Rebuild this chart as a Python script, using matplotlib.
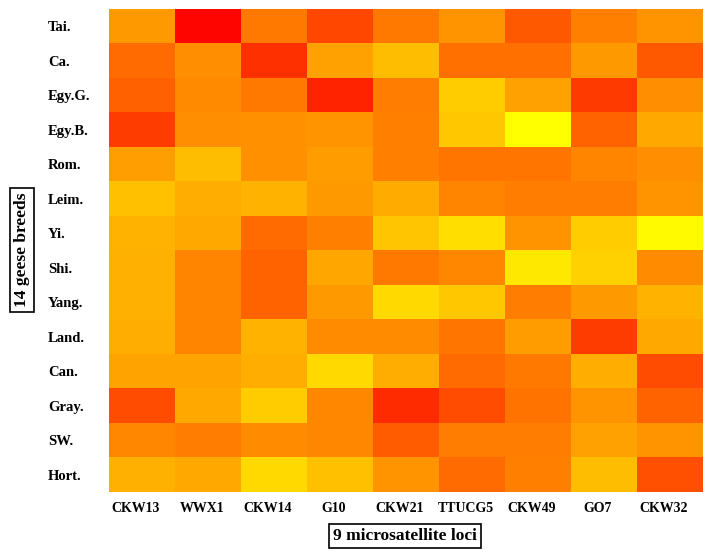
import numpy as np
import matplotlib
matplotlib.use("Agg")
import matplotlib.pyplot as plt
import matplotlib.transforms as mtransforms

breeds = ["Tai.", "Ca.", "Egy.G.", "Egy.B.", "Rom.", "Leim.", "Yi.", "Shi.",
          "Yang.", "Land.", "Can.", "Gray.", "SW.", "Hort."]
loci = ["CKW13", "WWX1", "CKW14", "G10", "CKW21", "TTUCG5", "CKW49", "GO7", "CKW32"]

# values (0 = red, 1 = yellow)
tai = [0.60, 0.02, 0.48, 0.28, 0.47, 0.58, 0.35, 0.50, 0.58]
ca = [0.42, 0.56, 0.19, 0.63, 0.74, 0.44, 0.44, 0.60, 0.35]
egy_g = [0.38, 0.54, 0.48, 0.14, 0.49, 0.80, 0.63, 0.23, 0.56]
egy_b = [0.24, 0.56, 0.57, 0.58, 0.50, 0.78, 1.00, 0.39, 0.66]
rom = [0.62, 0.74, 0.57, 0.61, 0.50, 0.46, 0.46, 0.52, 0.56]
leim = [0.75, 0.68, 0.70, 0.60, 0.67, 0.52, 0.49, 0.49, 0.58]
yi = [0.70, 0.66, 0.42, 0.50, 0.77, 0.87, 0.58, 0.80, 0.98]
shi = [0.69, 0.52, 0.39, 0.65, 0.47, 0.53, 0.91, 0.82, 0.55]
yang = [0.69, 0.52, 0.39, 0.60, 0.85, 0.78, 0.49, 0.60, 0.70]
land = [0.68, 0.52, 0.70, 0.55, 0.55, 0.46, 0.61, 0.24, 0.66]
can = [0.64, 0.64, 0.68, 0.85, 0.68, 0.42, 0.47, 0.68, 0.30]
gray = [0.30, 0.66, 0.80, 0.53, 0.17, 0.30, 0.45, 0.58, 0.39]
sw = [0.53, 0.49, 0.55, 0.53, 0.36, 0.49, 0.49, 0.63, 0.58]
hort = [0.69, 0.66, 0.85, 0.75, 0.58, 0.42, 0.50, 0.74, 0.31]

grid = np.array([tai, ca, egy_g, egy_b, rom, leim, yi, shi, yang, land, can, gray, sw, hort])

plt.rcParams['font.family'] = ['Liberation Serif', 'DejaVu Serif']
plt.rcParams['font.weight'] = 'bold'

fig = plt.figure(figsize=(7.14, 5.56), dpi=100)
ax = fig.add_axes([109/714, 1 - 492/556, 594/714, 483/556])
ax.imshow(grid, cmap='autumn', vmin=0, vmax=1, aspect='auto', interpolation='nearest')

ax.set_xticks(np.arange(len(loci)))
ax.set_xticklabels(loci, fontsize=10, fontweight='bold')
ax.set_yticks(np.arange(len(breeds)))
ax.set_yticklabels(breeds, fontsize=10.5, fontweight='bold', ha='left')
ax.tick_params(axis='both', length=0)
ax.tick_params(axis='x', pad=7)
ax.tick_params(axis='y', pad=44)
# labels in the original sit a little left of the column centres
shift = mtransforms.ScaledTranslation(-6/100, 0, fig.dpi_scale_trans)
for lab in ax.get_xticklabels():
    lab.set_transform(lab.get_transform() + shift)
for s in ax.spines.values():
    s.set_visible(False)

box = dict(boxstyle='square,pad=0.25', facecolor='white', edgecolor='black', linewidth=1.2)
fig.text(405/714, 1 - 536/556, "9 microsatellite loci", fontsize=12.5, fontweight='bold',
         ha='center', va='center', bbox=box)
fig.text(22/714, 1 - 250/556, "14 geese breeds", fontsize=12.5, fontweight='bold',
         ha='center', va='center', rotation=90, bbox=box)

fig.savefig("out.png", dpi=100)
